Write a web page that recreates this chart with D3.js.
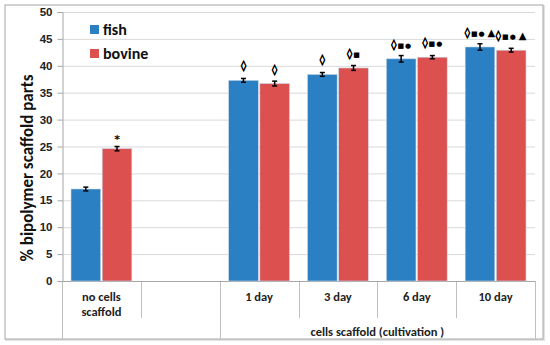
<!DOCTYPE html>
<html><head><meta charset="utf-8">
<script src="https://cdn.jsdelivr.net/npm/d3@7"></script>
<style>body{margin:0;background:#fff}svg{font-family:Calibri,Carlito,"Liberation Sans",Arial,sans-serif}</style>
</head><body><svg id="c" width="550" height="345"></svg>
<script>
const categories = ["no cells|scaffold", "", "1 day", "3 day", "6 day", "10 day"];
const seriesNames = ["fish", "bovine"];
const fishValues = [17.1, null, 37.3, 38.4, 41.3, 43.5];
const bovineValues = [24.6, null, 36.7, 39.6, 41.6, 42.9];
const fishErr = [0.35, null, 0.35, 0.35, 0.6, 0.6];
const bovineErr = [0.4, null, 0.45, 0.45, 0.3, 0.35];
const fishMarks = ["", "", "\u25CA", "\u25CA", "\u25CA\u25A0\u25CF", "\u25CA\u25A0\u25CF\u25B2"];
const bovineMarks = ["*", "", "\u25CA", "\u25CA\u25A0", "\u25CA\u25A0\u25CF", "\u25CA\u25A0\u25CF\u25B2"];
const yTicks = [0, 5, 10, 15, 20, 25, 30, 35, 40, 45, 50];
const groupLabel = "cells scaffold (cultivation )";
const colors = ["#2a80c2", "#dc5050"];

const svg = d3.select("#c");
const L = 62, R = 535, T = 12, B = 281;
const x = d3.scaleBand().domain(d3.range(categories.length)).range([L, R]).paddingInner(0).paddingOuter(0);
const xs = d3.scaleBand().domain([0, 1]).range([9, x.bandwidth() - 9]).paddingInner(0.05);
const y = d3.scaleLinear().domain([0, 50]).range([B, T]);

// outer frame
svg.append("rect").attr("x", 6).attr("y", 6).attr("width", 538).attr("height", 334).attr("fill", "none").attr("stroke", "#e3e3e3").attr("stroke-width", 2);
svg.append("rect").attr("x", 5).attr("y", 5).attr("width", 538).attr("height", 334).attr("fill", "#fff").attr("stroke", "#a6a6a6").attr("stroke-width", 1);

// gridlines
svg.append("g").selectAll("line").data(yTicks.filter(d => d > 0)).join("line")
  .attr("x1", L).attr("x2", R).attr("y1", d => y(d) + 0.5).attr("y2", d => y(d) + 0.5)
  .attr("stroke", "#d9d9d9").attr("stroke-width", 1);

// y axis
const yAxis = svg.append("g").attr("transform", `translate(${L + 0.5},0)`)
  .call(d3.axisLeft(y).tickValues(yTicks).tickSize(5).tickPadding(5));
yAxis.select(".domain").attr("stroke", "#a6a6a6");
yAxis.selectAll(".tick line").attr("stroke", "#a6a6a6");
yAxis.selectAll(".tick text").attr("font-size", 11.5).attr("font-weight", "bold").attr("fill", "#222");
yAxis.selectAll(".tick").attr("transform", d => `translate(0,${y(d) + 0.5})`);

// category dividers
const divs = [];
for (let i = 0; i <= categories.length; i++) {
  const xv = i < categories.length ? x(i) : R;
  const full = (i === 0 || i === 2 || i === categories.length);
  divs.push({ xv, y2: full ? 339 : 318 });
}
svg.append("g").selectAll("line").data(divs).join("line")
  .attr("x1", d => Math.round(d.xv) + 0.5).attr("x2", d => Math.round(d.xv) + 0.5)
  .attr("y1", B).attr("y2", d => d.y2).attr("stroke", "#bfbfbf");
svg.append("line").attr("x1", L).attr("x2", R).attr("y1", B + 0.5).attr("y2", B + 0.5).attr("stroke", "#a6a6a6");

// bars
const data = [fishValues, bovineValues];
const errs = [fishErr, bovineErr];
const marks = [fishMarks, bovineMarks];
const markSize = { "\u25CA": 10.5, "\u25A0": 7, "\u25CF": 7, "\u25B2": 10, "*": 11 };
const barsG = svg.append("g");
data.forEach((vals, s) => {
  const items = vals.map((v, i) => ({ i, v, e: errs[s][i], m: marks[s][i] })).filter(d => d.v != null);
  barsG.append("g").selectAll("rect").data(items).join("rect")
    .attr("x", d => x(d.i) + xs(s)).attr("width", xs.bandwidth())
    .attr("y", d => y(d.v)).attr("height", d => y(0) - y(d.v))
    .attr("fill", colors[s]).attr("stroke", "#c8d8e8").attr("stroke-width", 0.6);
  const eg = barsG.append("g").selectAll("g").data(items).join("g")
    .attr("transform", d => `translate(${x(d.i) + xs(s) + xs.bandwidth() / 2},0)`);
  eg.append("line").attr("y1", d => y(d.v + d.e)).attr("y2", d => y(d.v - d.e)).attr("stroke", "#000").attr("stroke-width", 1.5);
  eg.append("line").attr("x1", -2.5).attr("x2", 2.5).attr("y1", d => y(d.v + d.e)).attr("y2", d => y(d.v + d.e)).attr("stroke", "#000").attr("stroke-width", 1.5);
  eg.append("line").attr("x1", -2.5).attr("x2", 2.5).attr("y1", d => y(d.v - d.e)).attr("y2", d => y(d.v - d.e)).attr("stroke", "#000").attr("stroke-width", 1.5);
  const t = eg.append("text").attr("text-anchor", "middle")
    .attr("y", d => y(d.v) - (d.m === "*" ? 6 : 11))
    .attr("font-weight", "bold").attr("fill", "#000")
    .attr("font-family", "DejaVu Sans");
  t.each(function (d) {
    const sel = d3.select(this);
    Array.from(d.m).forEach((ch, k) => {
      const ts = sel.append("tspan").attr("font-size", markSize[ch] || 10)
        .attr("dx", k === 0 ? 0 : (ch === "\u25B2" ? 3 : 1)).text(ch);
      if (ch === "\u25CA") ts.attr("stroke", "#000").attr("stroke-width", 0.6);
    });
  });
});

// category labels
categories.forEach((c, i) => {
  const lines = c.split("|");
  const t = svg.append("text").attr("text-anchor", "middle").attr("font-size", 12.5).attr("font-weight", "bold").attr("fill", "#222")
    .attr("x", x(i) + x.bandwidth() / 2).attr("y", 301);
  lines.forEach((ln, k) => t.append("tspan").attr("x", x(i) + x.bandwidth() / 2).attr("dy", k === 0 ? 0 : 14.5).text(ln));
});
svg.append("text").attr("text-anchor", "middle").attr("font-size", 12.5).attr("font-weight", "bold").attr("fill", "#222")
  .attr("x", (x(2) + R) / 2).attr("y", 336).text(groupLabel);

// y title
svg.append("text").attr("transform", `translate(33,168) rotate(-90)`).attr("text-anchor", "middle")
  .attr("font-size", 17).attr("font-weight", "bold").attr("fill", "#111").text("% bipolymer scaffold parts");

// legend
const lg = svg.append("g").attr("transform", "translate(90,25)");
seriesNames.forEach((n, s) => {
  lg.append("rect").attr("x", 0).attr("y", s * 24).attr("width", 9).attr("height", 9).attr("fill", colors[s]);
  lg.append("text").attr("x", 13).attr("y", s * 24 + 10).attr("font-size", 16).attr("font-weight", "bold").attr("fill", "#111").text(n);
});
</script></body></html>
